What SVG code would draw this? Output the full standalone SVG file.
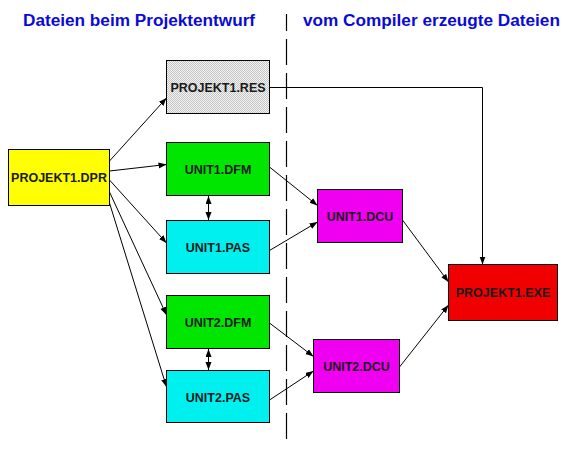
<svg xmlns="http://www.w3.org/2000/svg" width="567" height="456" viewBox="0 0 567 456">
<style>
.title{font-family:"Liberation Sans",Arial,sans-serif;font-weight:bold;font-size:17.2px;fill:#0a0ad8}
.box{stroke:#000;stroke-width:1}
.lbl{font-family:"Liberation Sans",Arial,sans-serif;font-weight:bold;font-size:12.5px;fill:#1a1a1a;text-anchor:middle}
.edge{fill:none;stroke:#000;stroke-width:1}
</style>
<defs>
<pattern id="stip" width="2" height="2" patternUnits="userSpaceOnUse">
<rect width="2" height="2" fill="#f4f4f4"/>
<rect width="1" height="1" fill="#c4c4c4"/>
<rect x="1" y="1" width="1" height="1" fill="#c4c4c4"/>
</pattern>
<marker id="ah" markerUnits="userSpaceOnUse" markerWidth="10" markerHeight="8" refX="8" refY="3" orient="auto-start-reverse">
<path d="M0,0 L8,3 L0,6 z" fill="#000"/>
</marker>
</defs>
<rect width="567" height="456" fill="#fff"/>
<text class="title" x="23" y="26">Dateien beim Projektentwurf</text>
<text class="title" x="303" y="26">vom Compiler erzeugte Dateien</text>
<line x1="286.5" y1="14" x2="286.5" y2="446" stroke="#000" stroke-width="1.2" stroke-dasharray="26 8" stroke-dashoffset="9"/>
<g id="connectors">
<line class="edge" x1="109.5" y1="161" x2="166.5" y2="98" marker-end="url(#ah)"/>
<line class="edge" x1="109.5" y1="171" x2="166.5" y2="164.5" marker-end="url(#ah)"/>
<line class="edge" x1="109.5" y1="180" x2="166.5" y2="243" marker-end="url(#ah)"/>
<line class="edge" x1="109.5" y1="192" x2="166.5" y2="315" marker-end="url(#ah)"/>
<line class="edge" x1="109.5" y1="203" x2="166.5" y2="387" marker-end="url(#ah)"/>
<line class="edge" x1="208.5" y1="196" x2="208.5" y2="220" marker-start="url(#ah)" marker-end="url(#ah)"/>
<line class="edge" x1="208.5" y1="349" x2="208.5" y2="370" marker-start="url(#ah)" marker-end="url(#ah)"/>
<line class="edge" x1="269.5" y1="167" x2="317.5" y2="205.5" marker-end="url(#ah)"/>
<line class="edge" x1="269.5" y1="250.5" x2="317.5" y2="222" marker-end="url(#ah)"/>
<line class="edge" x1="269.5" y1="323" x2="313.5" y2="356.5" marker-end="url(#ah)"/>
<line class="edge" x1="269.5" y1="400" x2="313.5" y2="371" marker-end="url(#ah)"/>
<line class="edge" x1="402.5" y1="220" x2="448.5" y2="282" marker-end="url(#ah)"/>
<line class="edge" x1="399.5" y1="367" x2="448.5" y2="305" marker-end="url(#ah)"/>
<polyline class="edge" points="269.5,87.5 482.5,87.5 482.5,264.5" marker-end="url(#ah)"/>
</g>
<g id="projekt1-res"><rect class="box" x="166.5" y="60.5" width="103" height="53" fill="url(#stip)"/><text class="lbl" x="218" y="91.5">PROJEKT1.RES</text></g>
<g id="projekt1-dpr"><rect class="box" x="8.5" y="149.5" width="101" height="56" fill="#ffff00"/><text class="lbl" x="59" y="181.5">PROJEKT1.DPR</text></g>
<g id="unit1-dfm"><rect class="box" x="166.5" y="142.5" width="103" height="53" fill="#00e600"/><text class="lbl" x="218" y="174">UNIT1.DFM</text></g>
<g id="unit1-pas"><rect class="box" x="166.5" y="220.5" width="103" height="53" fill="#00f0f0"/><text class="lbl" x="218" y="252">UNIT1.PAS</text></g>
<g id="unit2-dfm"><rect class="box" x="166.5" y="295.5" width="103" height="53" fill="#00e600"/><text class="lbl" x="218" y="327">UNIT2.DFM</text></g>
<g id="unit2-pas"><rect class="box" x="166.5" y="370.5" width="103" height="52" fill="#00f0f0"/><text class="lbl" x="218" y="401.5">UNIT2.PAS</text></g>
<g id="unit1-dcu"><rect class="box" x="317.5" y="189.5" width="85" height="53" fill="#f000f0"/><text class="lbl" x="360" y="221">UNIT1.DCU</text></g>
<g id="unit2-dcu"><rect class="box" x="313.5" y="339.5" width="86" height="53" fill="#f000f0"/><text class="lbl" x="356.5" y="371">UNIT2.DCU</text></g>
<g id="projekt1-exe"><rect class="box" x="448.5" y="264.5" width="109" height="56" fill="#f00000"/><text class="lbl" x="503" y="297">PROJEKT1.EXE</text></g>
</svg>
